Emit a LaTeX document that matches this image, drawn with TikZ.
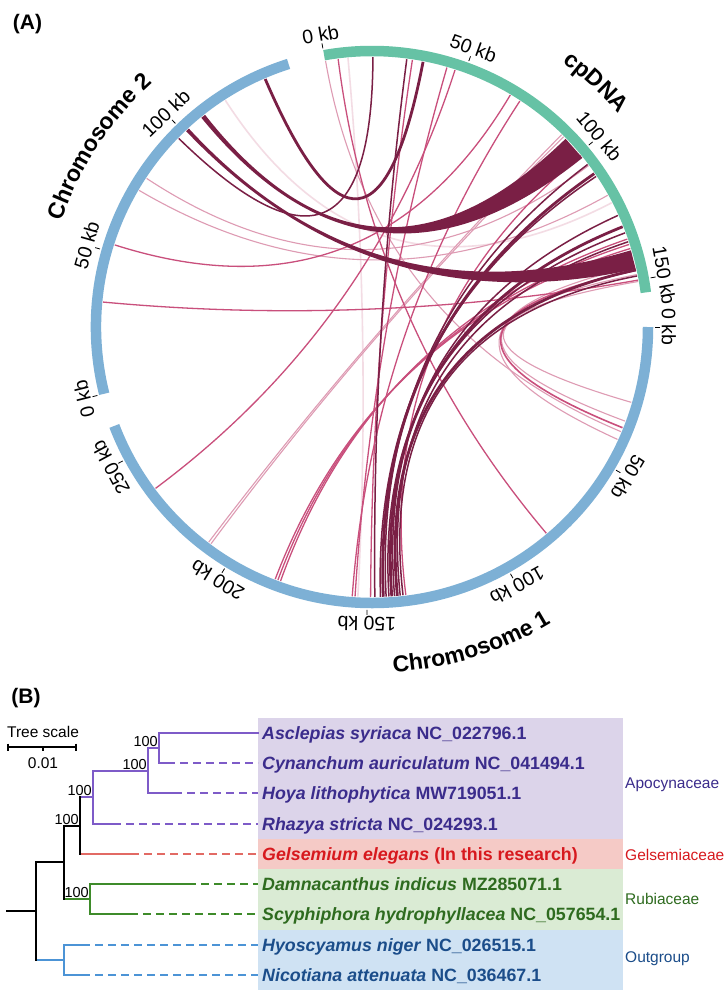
\documentclass[tikz,border=0pt]{standalone}
\usepackage{fontspec}
\setmainfont{Liberation Sans}
\usetikzlibrary{calc,decorations.text}

\definecolor{ringB}{HTML}{7DB0D5}
\definecolor{ringG}{HTML}{66C2A5}
\definecolor{lkD}{HTML}{7A1F45}
\definecolor{lkM}{HTML}{C94F7C}
\definecolor{lkL}{HTML}{DE9BB3}
\definecolor{lkV}{HTML}{F3DCE4}
\definecolor{bxP}{HTML}{DCD4EA}
\definecolor{bxR}{HTML}{F5CAC6}
\definecolor{bxG}{HTML}{DAEBD4}
\definecolor{bxB}{HTML}{CFE2F3}
\definecolor{txP}{HTML}{3B2C8C}
\definecolor{txR}{HTML}{D7191E}
\definecolor{txG}{HTML}{2E6B1F}
\definecolor{txB}{HTML}{1B4D8A}
\definecolor{trP}{HTML}{7E5BC8}
\definecolor{trR}{HTML}{E26A64}
\definecolor{trG}{HTML}{3E8B2A}
\definecolor{trB}{HTML}{4C94D6}

\newcommand\fsz[1]{\fontsize{#1}{#1}\selectfont}
% chord between two clockwise angles (from top)
\newcommand\lnk[3][]{%
  \draw[#1] ($(C)+({#2-90}:270)$) .. controls ($(C)+({#2-90}:90)$) and ($(C)+({#3-90}:90)$) .. ($(C)+({#3-90}:270)$);}
% ribbon: edge a1-b1, edge b2-a2
\newcommand\rib[5][]{%
  \fill[#1] ($(C)+({#2-90}:270)$) .. controls ($(C)+({#2-90}:90)$) and ($(C)+({#3-90}:90)$) .. ($(C)+({#3-90}:270)$)
   -- ($(C)+({#4-90}:270)$) .. controls ($(C)+({#4-90}:90)$) and ($(C)+({#5-90}:90)$) .. ($(C)+({#5-90}:270)$) -- cycle;}
% tick with label
\newcommand\tk[2]{%
  \draw[tickline] ($(C)+({#1-90}:283)$) -- ($(C)+({#1-90}:288)$);
  \node[ticklab, rotate={-(#1)}, anchor=south] at ($(C)+({#1-90}:289)$) {#2};}
% ring arc, clockwise angles
\newcommand\seg[3]{%
  \draw[line width=10.5pt, #1] ($(C)+({#2-90}:276)$) arc[start angle={#2-90}, end angle={#3-90}, radius=276];}

\tikzset{
  lV/.style={lkV, line width=1.6pt},
  lL/.style={lkL, line width=1.1pt},
  lM/.style={lkM, line width=1.3pt},
  lD/.style={lkD, line width=1.5pt},
  lDD/.style={lkD, line width=2.8pt},
  tickline/.style={line width=0.8pt, black},
  ticklab/.style={font=\fsz{19.5}, inner sep=0.5pt},
  br/.style={line width=2pt, line cap=rect},
  dsh/.style={line width=2pt, dash pattern=on 8pt off 5pt},
  boot/.style={font=\fsz{14.5}, inner sep=0pt, anchor=south east},
  sp/.style={font=\fsz{17.8}\bfseries, inner sep=0pt, anchor=base west},
  fam/.style={font=\fsz{15.5}, inner sep=0pt, anchor=base west}
}

\begin{document}
\begin{tikzpicture}[x=1pt, y=-1pt]
\useasboundingbox (0,0) rectangle (726,996);
\fill[white] (0,0) rectangle (726,996);
\coordinate (C) at (372,327);

% ---------------- panel A ----------------
\node[font=\fsz{21}\bfseries, inner sep=0pt] (lA) at (27.5,24) {(A)};

% very light links
\lnk[lV]{-5.1}{183}
\lnk[lV]{327.1}{62.6}
% light links
\lnk[lL]{303.4}{53.3}
\lnk[lL]{300.4}{60.8}
\lnk[lL]{216.6}{45.2}
\lnk[lL]{217.2}{44.6}
\lnk[lL]{106.2}{80.3}
\lnk[lL]{110.4}{78.8}
\lnk[lL]{114.6}{77}
\lnk[lL]{-9.9}{112.8}
% medium links
\lnk[lM]{233.3}{17.9}
\lnk[lM]{183.6}{16.1}
\lnk[lM]{184.2}{33.2}
\lnk[lM]{199.8}{71}
\lnk[lM]{200.4}{72.2}
\lnk[lM]{201.0}{73.1}
\lnk[lM]{139.8}{-7.2}
\lnk[lM, line width=1.6pt]{111.9}{77.9}
\lnk[lM]{287.7}{30.8}
\lnk[lM]{275.3}{80}
\lnk[lM]{50.6}{172.8}
\lnk[lM]{8.6}{180.3}
% dark links
\lnk[lD]{314.3}{0.2}
\lnk[lD]{7.4}{179.4}
\lnk[lD]{56.1}{178.2}
\lnk[lD]{69.6}{176.4}
\lnk[lD]{65.6}{175.2}
\lnk[lD]{71.6}{174}
\lnk[lD]{79.1}{173.4}
\lnk[lD]{53.0}{177}
\lnk[lDD]{336.7}{10.9}
\lnk[lDD]{55.4}{177.6}
\lnk[lDD]{68.2}{175.8}
\lnk[lDD]{77.8}{174.6}
% ribbons
\rib[lkD]{45.8}{321.8}{320.8}{51.2}
\rib[lkD]{73.5}{317.3}{316.5}{77.6}

% ring segments
\seg{ringG}{-10}{82.8}
\seg{ringB}{90}{249}
\seg{ringB}{256}{342.4}

% ticks
\tk{-10}{0 kb}
\tk{20}{50 kb}
\tk{50}{100 kb}
\tk{80}{150 kb}
\tk{90}{0 kb}
\tk{120.4}{50 kb}
\tk{150.7}{100 kb}
\tk{181}{150 kb}
\tk{211.4}{200 kb}
\tk{241.75}{250 kb}
\tk{256}{0 kb}
\tk{286}{50 kb}
\tk{316}{100 kb}

% segment names
\path[decorate, decoration={text along path, text align=center,
  text={|\fsz{23}\bfseries|Chromosome 2}}]
  ($(C)+(190:328)$) arc[start angle=190, end angle=236.8, radius=328];
\path[decorate, decoration={text along path, text align=center,
  text={|\fsz{23}\bfseries|cpDNA}}]
  ($(C)+(-70:326)$) arc[start angle=-70, end angle=-25, radius=326];
\path[decorate, decoration={text along path, text align=center,
  text={|\fsz{23}\bfseries|Chromosome 1}}]
  ($(C)+(100:346)$) arc[start angle=100, end angle=45.2, radius=346];

% ---------------- panel B ----------------
\node[font=\fsz{21}\bfseries, inner sep=0pt] (lB) at (26,698) {(B)};

% scale bar
\node[font=\fsz{15.5}, inner sep=0pt] (ts) at (43,732) {Tree scale};
\draw[line width=2pt] (8,747) -- (76,747);
\draw[line width=1.2pt] (8,743.5) -- (8,750.5) (76,743.5) -- (76,750.5) (43,747) -- (43,750.5);
\node[font=\fsz{15.5}, inner sep=0pt] (tsv) at (43,763) {0.01};

% colour boxes
\fill[bxP] (258,718) rectangle (623,839);
\fill[bxR] (258,839) rectangle (623,869);
\fill[bxG] (258,869) rectangle (623,930);
\fill[bxB] (258,930) rectangle (623,990);

% tree: purple
\draw[br, trP] (258,733) -| (159,763) -- (167,763);
\draw[br, trP] (159,748) -| (148,793) -- (174,793);
\draw[br, trP] (148,771) -| (93,824) -- (113,824);
\draw[br, trP] (80,797) -- (93,797);
\draw[dsh, trP] (167,763) -- (258,763);
\draw[dsh, trP] (174,793) -- (258,793);
\draw[dsh, trP] (113,824) -- (258,824);
% red
\draw[br, trR] (80,854) -- (131,854);
\draw[dsh, trR] (131,854) -- (258,854);
% green
\draw[br, trG] (188,884) -| (90,914) -- (130,914);
\draw[br, trG] (64,899) -- (90,899);
\draw[dsh, trG] (188,884) -- (258,884);
\draw[dsh, trG] (130,914) -- (258,914);
% blue
\draw[br, trB] (36,960) -- (64,960);
\draw[br, trB] (82,945) -| (64,975) -- (82,975);
\draw[dsh, trB] (82,945) -- (258,945);
\draw[dsh, trB] (82,975) -- (258,975);
% black
\draw[br, black] (80,797) -- (80,854);
\draw[br, black] (64,826) -- (80,826);
\draw[br, black] (64,826) -- (64,899);
\draw[br, black] (64,862) -| (36,960);
\draw[br, black] (7,911) -- (36,911);

% bootstrap values
\node[boot] (b1) at (158,746.5) {100};
\node[boot] (b2) at (147,769.5) {100};
\node[boot] (b3) at (92,795.5) {100};
\node[boot] (b4) at (79,824.5) {100};
\node[boot] (b5) at (89,897.5) {100};

% species labels
\node[sp, txP] (s1) at (262,739.3) {\textit{Asclepias syriaca} NC\_022796.1};
\node[sp, txP] (s2) at (262,769.5) {\textit{Cynanchum auriculatum} NC\_041494.1};
\node[sp, txP] (s3) at (262,799.8) {\textit{Hoya lithophytica} MW719051.1};
\node[sp, txP] (s4) at (262,830) {\textit{Rhazya stricta} NC\_024293.1};
\node[sp, txR] (s5) at (262,860.3) {\textit{Gelsemium elegans} (In this research)};
\node[sp, txG] (s6) at (262,890.5) {\textit{Damnacanthus indicus} MZ285071.1};
\node[sp, txG] (s7) at (262,920.8) {\textit{Scyphiphora hydrophyllacea} NC\_057654.1};
\node[sp, txB] (s8) at (262,951) {\textit{Hyoscyamus niger} NC\_026515.1};
\node[sp, txB] (s9) at (262,981.3) {\textit{Nicotiana attenuata} NC\_036467.1};

% family labels
\node[fam, txP] (f1) at (625,788) {Apocynaceae};
\node[fam, txR] (f2) at (625,860.5) {Gelsemiaceae};
\node[fam, txG] (f3) at (625,904.5) {Rubiaceae};
\node[fam, txB] (f4) at (625,962.5) {Outgroup};
\end{tikzpicture}
\end{document}
